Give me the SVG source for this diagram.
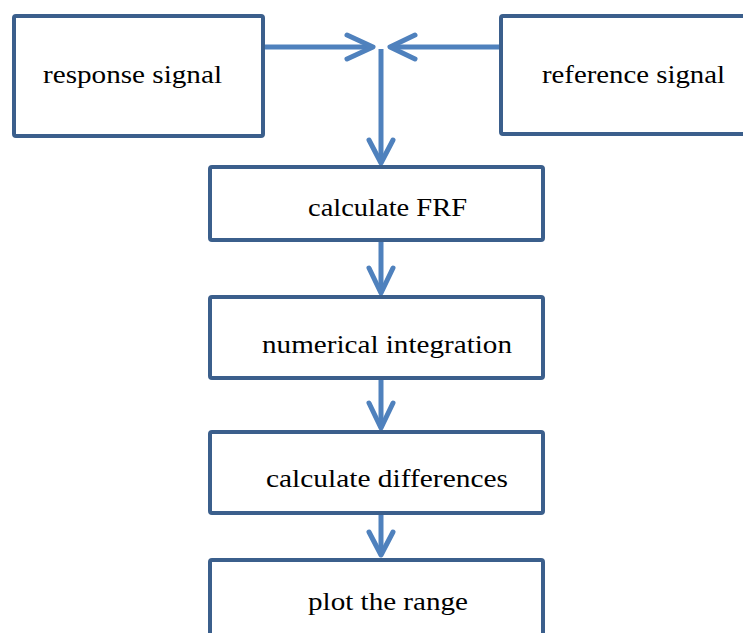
<svg xmlns="http://www.w3.org/2000/svg" width="743" height="633" viewBox="0 0 743 633">
<style>
.box{fill:#fff;stroke:#3B5F8C;stroke-width:4;}
.lbl{font-family:"Liberation Serif","DejaVu Serif","Noto Serif",serif;font-size:26px;fill:#000;}
.ln{fill:none;stroke:#4F81BD;stroke-width:5;stroke-linecap:round;stroke-linejoin:round;}
.ln2{fill:none;stroke:#4F81BD;stroke-width:5;stroke-linecap:butt;}
</style>
<rect width="743" height="633" fill="#fff"/>
<g id="connectors">
<path class="ln2" d="M263,47 H371"/>
<path class="ln" d="M347,35 L373,47 L347,59"/>
<path class="ln2" d="M501,47 H392"/>
<path class="ln" d="M415,35 L390,47 L415,59"/>
<path class="ln2" d="M381,49 V161"/>
<path class="ln" d="M369,140 L381,163 L393,140"/>
<path class="ln2" d="M381,240 V291"/>
<path class="ln" d="M369,268 L381,293 L393,268"/>
<path class="ln2" d="M381,378 V426"/>
<path class="ln" d="M369,403 L381,428 L393,403"/>
<path class="ln2" d="M381,513 V553"/>
<path class="ln" d="M369,532 L381,555 L393,532"/>
</g>
<g id="response">
<rect class="box" x="14" y="16" width="249" height="120" rx="2"/>
<text class="lbl" x="43" y="83" textLength="179" lengthAdjust="spacingAndGlyphs">response signal</text>
</g>
<g id="reference">
<rect class="box" x="501" y="16" width="260" height="118" rx="2"/>
<text class="lbl" x="542" y="83" textLength="183" lengthAdjust="spacingAndGlyphs">reference signal</text>
</g>
<g id="frf">
<rect class="box" x="210" y="167" width="333" height="73" rx="2"/>
<text class="lbl" x="308" y="216" textLength="159" lengthAdjust="spacingAndGlyphs">calculate FRF</text>
</g>
<g id="integration">
<rect class="box" x="210" y="297" width="333" height="81" rx="2"/>
<text class="lbl" x="262" y="353" textLength="250" lengthAdjust="spacingAndGlyphs">numerical integration</text>
</g>
<g id="differences">
<rect class="box" x="210" y="432" width="333" height="81" rx="2"/>
<text class="lbl" x="266" y="487" textLength="242" lengthAdjust="spacingAndGlyphs">calculate differences</text>
</g>
<g id="plot">
<rect class="box" x="210" y="560" width="333" height="90" rx="2"/>
<text class="lbl" x="308" y="610" textLength="160" lengthAdjust="spacingAndGlyphs">plot the range</text>
</g>
</svg>
